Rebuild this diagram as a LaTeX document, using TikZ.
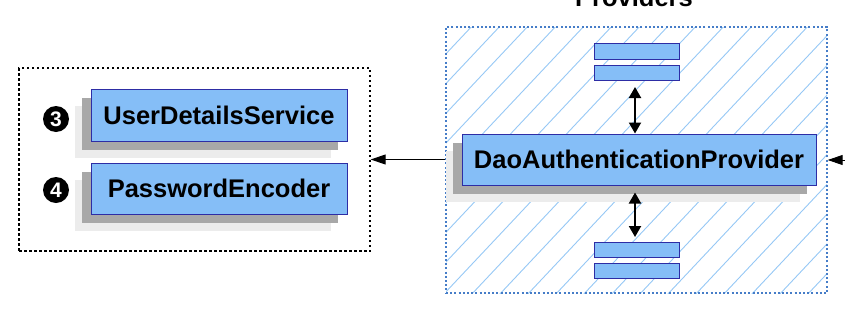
\documentclass[tikz,border=0pt]{standalone}
\usepackage{fontspec}
\setmainfont{Liberation Sans}
\usetikzlibrary{arrows.meta,calc,shadows,backgrounds}
\definecolor{boxfill}{RGB}{133,190,247}
\definecolor{boxline}{RGB}{45,45,165}
\definecolor{shdark}{RGB}{168,168,168}
\definecolor{shlight}{RGB}{236,236,236}
\definecolor{hatchcol}{RGB}{150,200,245}
\definecolor{provline}{RGB}{70,125,200}
\tikzset{
  bluebox/.style={draw=boxline, line width=1pt, fill=boxfill, inner sep=0pt,
    font=\fontsize{25.5}{30}\selectfont\bfseries},
  shadowed/.style={
    general shadow={fill=shlight, shadow xshift=-16pt, shadow yshift=-17pt},
    general shadow={fill=shdark, shadow xshift=-9pt, shadow yshift=-9pt}},
  badge/.style={circle, fill=black, inner sep=0pt, minimum size=26pt,
    text=white, font=\fontsize{21}{24}\selectfont\bfseries},
  arr/.style={line width=1pt, -{Triangle[length=15pt,width=10pt]}},
  darr/.style={line width=2pt, {Triangle[length=11pt,width=12pt]}-{Triangle[length=11pt,width=12pt]}},
}
\begin{document}
\begin{tikzpicture}[x=1pt,y=-1pt]
\useasboundingbox (0,0) rectangle (845,311);
% providers hatched area
\coordinate (pnw) at (446,27);
\coordinate (pse) at (827,293);
\begin{scope}
  \clip (pnw) rectangle (pse);
  \foreach \c in {0,28,...,700}
    \draw[hatchcol, line width=0.9pt] (446+\c-300,293+20) -- (446+\c+20,27-300+293-27+ -20 + 0);
\end{scope}
\node[draw=provline, line width=1.4pt, dash pattern=on 2pt off 2.2pt, inner sep=0pt,
  fit/.style={}, minimum width=381pt, minimum height=266pt] (providers) at (636.5,160) {};
\node[anchor=base, font=\fontsize{25.5}{30}\selectfont\bfseries] (ptitle) at (634,6) {Providers};
% left group
\node[draw=black, line width=1.4pt, dash pattern=on 2.5pt off 2.5pt, inner sep=0pt,
  minimum width=351pt, minimum height=183pt] (group) at (194.5,159.5) {};
\node[bluebox, shadowed, minimum width=256pt, minimum height=52pt] (uds) at (219,115) {UserDetailsService};
\node[bluebox, shadowed, minimum width=256pt, minimum height=51pt] (pe) at (219,188.5) {PasswordEncoder};
\node[badge] (b3) at (56,119) {3};
\node[badge] (b4) at (56,190) {4};
% dao
\node[bluebox, shadowed, minimum width=354pt, minimum height=51pt] (dao) at (639,159.5) {DaoAuthenticationProvider};
% small bars
\node[bluebox, minimum width=85pt, minimum height=16pt] (t1) at (636.5,51) {};
\node[bluebox, minimum width=85pt, minimum height=15pt] (t2) at (636.5,72.5) {};
\node[bluebox, minimum width=85pt, minimum height=15pt] (d1) at (636.5,249.5) {};
\node[bluebox, minimum width=85pt, minimum height=15pt] (d2) at (636.5,270.5) {};
% arrows
\draw[darr] (635,87) -- (dao.north -| 635,0);
\draw[darr] (dao.south -| 635,0) ++(0,7) -- (635,237);
\draw[arr] (providers.west |- dao.center) -- (group.east |- dao.center);
\coordinate (rin) at (845,160);
\draw[arr] (rin) -- (providers.east |- rin);
\end{tikzpicture}
\end{document}
